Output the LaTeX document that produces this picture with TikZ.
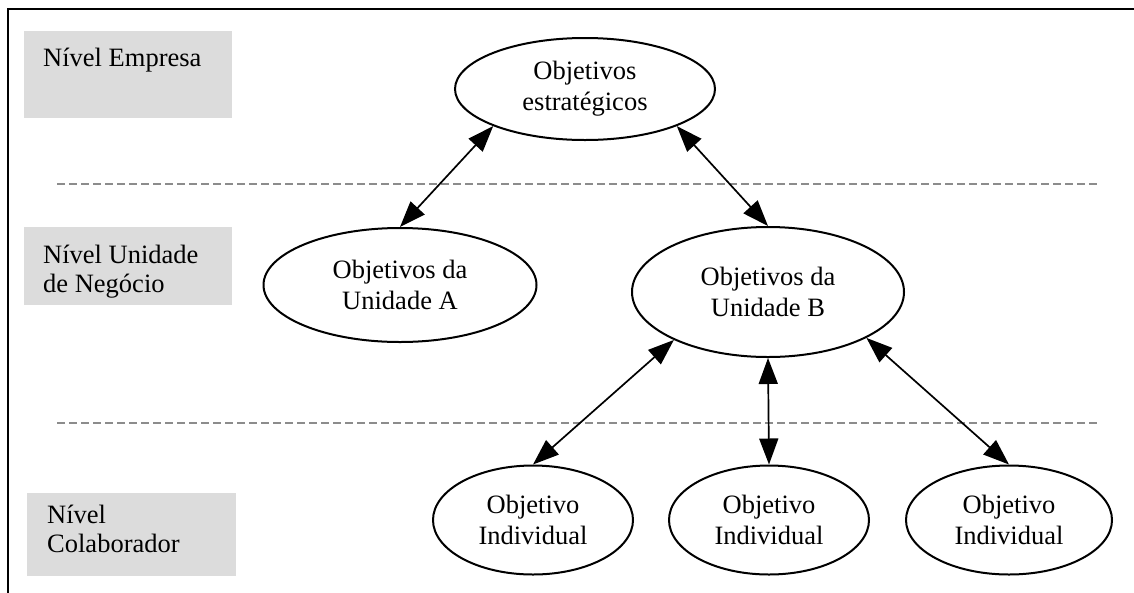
\documentclass[tikz,border=0pt]{standalone}
\usepackage{fontspec}
\setmainfont{Liberation Serif}
\usetikzlibrary{arrows.meta,shapes.geometric}
\definecolor{levelgray}{HTML}{DCDCDC}
\definecolor{sepgray}{HTML}{8C8C8C}
\begin{document}
\begin{tikzpicture}[x=1pt,y=-1pt,
  lbl/.style={font=\fontsize{26.5}{29}\selectfont, inner sep=0pt, align=left, anchor=base west},
  levelbox/.style={fill=levelgray, draw=none, anchor=north west, inner sep=0pt},
  goal/.style={ellipse, draw, line width=2pt, inner sep=0pt,
    font=\fontsize{26.5}{31}\selectfont, align=center},
  link/.style={{Triangle[length=26pt,width=19pt]}-{Triangle[length=26pt,width=19pt]}, line width=1.7pt},
  separator/.style={sepgray, line width=1.5pt, dash pattern=on 8pt off 4pt}]
\useasboundingbox (0,0) rectangle (1134,592);

% outer frame (only top and left edges fall inside the page)
\draw[line width=2.2pt] (1140,9) -- (8,9) -- (8,600);

% level labels (multi-line labels are placed by the baseline of their last line)
\node[levelbox, minimum width=208pt, minimum height=87pt] (lv1) at (24,31) {};
\node[levelbox, minimum width=208pt, minimum height=78pt] (lv2) at (24,227) {};
\node[levelbox, minimum width=209pt, minimum height=83pt] (lv3) at (27,493) {};
\node[lbl] (t1) at (43,66.7) {Nível Empresa};
\node[lbl] (t2) at (43,292) {Nível Unidade\\de Negócio};
\node[lbl] (t3) at (47,552) {Nível\\Colaborador};

% level separators
\coordinate (s1a) at (57,184);
\coordinate (s1b) at (1097,184);
\coordinate (s2a) at (57,423);
\coordinate (s2b) at (1098,423);
\draw[separator] (s1a) -- (s1b);
\draw[separator] (s2a) -- (s2b);

% objectives
\node[goal, minimum width=260pt, minimum height=102pt] (strat) at (585,89) {Objetivos\\estratégicos};
\node[goal, minimum width=273pt, minimum height=114pt] (unitA) at (400,285) {Objetivos da\\Unidade A};
\node[goal, minimum width=272pt, minimum height=130pt] (unitB) at (768,292) {Objetivos da\\Unidade B};
\node[goal, minimum width=200pt, minimum height=109pt] (ind1) at (533,520) {Objetivo\\Individual};
\node[goal, minimum width=200pt, minimum height=109pt] (ind2) at (769,520) {Objetivo\\Individual};
\node[goal, minimum width=206pt, minimum height=109pt] (ind3) at (1009,520) {Objetivo\\Individual};

% links between levels
\draw[link] (strat.202) -- (unitA.north);
\draw[link] (strat.338) -- (unitB.north);
\draw[link] (unitB.207) -- (ind1.north);
\draw[link] (unitB.south) -- (ind2.north);
\draw[link] (unitB.335) -- (ind3.north);
\end{tikzpicture}
\end{document}
